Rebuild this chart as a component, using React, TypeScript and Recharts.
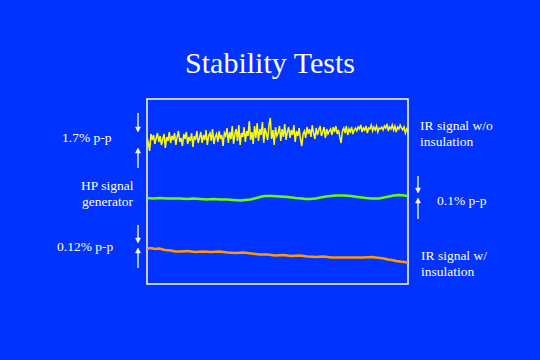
import React from "react";
import { LineChart, Line, XAxis, YAxis, ReferenceArea } from "recharts";

// Signal traces (arbitrary units, height above plot floor), time axis 0..130
const yellowValues = [
  147, 141, 133, 150, 144, 149, 140, 146, 151, 142, 148, 139, 145, 150, 136, 147, 143, 152, 141, 148,
  144, 151, 139, 147, 153, 142, 146, 138, 150, 145, 152, 140, 147, 143, 151, 137, 148, 144, 153, 141,
  146, 152, 141, 149, 144, 154, 139, 148, 151, 143, 155, 140, 147, 150, 142, 153, 145, 149, 138, 151,
  148, 156, 141, 152, 145, 158, 140, 150, 155, 143, 159, 139, 151, 147, 157, 142, 153, 148, 163, 144,
  152, 140, 158, 146, 161, 143, 155, 149, 162, 141, 156, 150, 144, 159, 166, 145, 154, 139, 157, 148,
  151, 158, 143, 155, 147, 160, 144, 152, 157, 146, 154, 149, 159, 142, 153, 148, 156, 145, 138, 150,
  153, 146, 157, 150, 155, 147, 159, 151, 145, 156, 149, 154, 158, 148, 152, 157, 146, 155, 150, 153,
  155, 149, 157, 152, 158, 150, 154, 147, 141, 153, 156, 151, 158, 149, 155, 152, 157, 150, 154, 156,
  153, 157, 155, 159, 152, 156, 154, 158, 151, 156, 155, 159, 153, 157, 154, 158, 152, 156, 155, 157,
  154, 158, 156, 160, 153, 157, 155, 159, 154, 158, 152, 157, 155, 159, 156, 154, 157, 151, 155, 152,
];

const greenX = [0, 3, 6.5, 10, 13, 16.5, 20, 23, 26.5, 30, 33, 36.5, 40, 43, 46.5, 49, 51.5, 53.5, 55.5, 57, 59, 62, 66.5, 70, 74, 77, 79, 81, 84, 86.5, 89, 91.5, 94, 98, 101.5, 105, 109, 112, 115.5, 118, 120.5, 123, 125.5, 128, 130];
const greenValues = [86, 85.5, 86, 85.5, 85.5, 85.5, 85, 85.5, 85, 84.5, 85, 84.5, 84.5, 84, 83.5, 84, 84.5, 85.5, 86.5, 87.5, 88, 88, 87.5, 87, 86, 85.5, 85, 85, 85.5, 86.5, 87.5, 88, 88.5, 88.5, 88, 87, 86, 85.5, 85.5, 86.5, 87.5, 88.5, 89, 88.5, 88];

const orangeX = [0, 2, 4, 6, 9, 12, 14, 17, 20, 24, 28, 32, 36, 40, 44, 48, 52, 56, 60, 64, 68, 72, 76, 80, 84, 88, 92, 96, 100, 104, 108, 112, 116, 118, 120, 122, 124, 126, 128, 130];
const orangeValues = [35.5, 36, 35, 35.5, 34, 33.5, 32.5, 32.5, 33, 32, 32.5, 32, 32.5, 31.5, 31, 31.5, 30.5, 29.5, 29.5, 28.5, 29, 28, 28.5, 27.5, 27, 27.5, 26.5, 26.5, 26.5, 26.5, 26.5, 27, 26, 25.5, 24.5, 24, 23, 22.5, 22, 21.5];

const titleText = "Stability Tests";
const leftLabels = ["1.7% p-p", "HP signal", "generator", "0.12% p-p"];
const rightLabels = ["IR signal w/o", "insulation", "0.1% p-p", "IR signal w/", "insulation"];

const yellowData = yellowValues.map((y, i) => ({ x: (i * 130) / (yellowValues.length - 1), y }));
const greenData = greenX.map((x, i) => ({ x, y: greenValues[i] }));
const orangeData = orangeX.map((x, i) => ({ x, y: orangeValues[i] }));

const BG = "#0033ff";
const FONT = "'Liberation Serif', 'Times New Roman', serif";

function Arrow({ x, y1, y2 }: { x: number; y1: number; y2: number }) {
  const dir = y2 > y1 ? 1 : -1;
  return (
    <g stroke="#fff" strokeWidth={1.3} fill="#fff">
      <line x1={x} y1={y1} x2={x} y2={y2 - dir * 3} />
      <polygon points={`${x - 2.5},${y2 - dir * 5} ${x + 2.5},${y2 - dir * 5} ${x},${y2}`} strokeWidth={0.5} />
    </g>
  );
}

export default function App() {
  return (
    <div style={{ position: "absolute", left: 0, top: 0, width: 540, height: 360, background: BG, overflow: "hidden" }}>
      <div style={{ position: "absolute", left: 0, top: 0 }}>
        <LineChart width={540} height={360} margin={{ top: 99, right: 132, bottom: 76, left: 147 }}>
          <XAxis type="number" dataKey="x" domain={[0, 130]} hide allowDataOverflow />
          <YAxis type="number" dataKey="y" domain={[0, 185]} hide allowDataOverflow />
          <ReferenceArea x1={0} x2={130} y1={0} y2={185} fill="none" stroke="#ffffff" strokeWidth={1.5} ifOverflow="extendDomain" />
          <Line data={orangeData} dataKey="y" type="linear" stroke="#ff9900" strokeWidth={2.5} dot={false} isAnimationActive={false} />
          <Line data={greenData} dataKey="y" type="linear" stroke="#66ff00" strokeWidth={2.5} dot={false} isAnimationActive={false} />
          <Line data={yellowData} dataKey="y" type="linear" stroke="#ffff00" strokeWidth={1.5} dot={false} isAnimationActive={false} />
        </LineChart>
      </div>
      <svg width={540} height={360} style={{ position: "absolute", left: 0, top: 0, pointerEvents: "none" }}>
        <text x={270} y={73} textAnchor="middle" fill="#fff" fontFamily={FONT} fontSize={30}>{titleText}</text>
        <g fill="#fff" fontFamily={FONT} fontSize={13.5}>
          <text x={62} y={142}>{leftLabels[0]}</text>
          <text x={81} y={190}>{leftLabels[1]}</text>
          <text x={82} y={206}>{leftLabels[2]}</text>
          <text x={57} y={251}>{leftLabels[3]}</text>
          <text x={420} y={130}>{rightLabels[0]}</text>
          <text x={420} y={146}>{rightLabels[1]}</text>
          <text x={437} y={205}>{rightLabels[2]}</text>
          <text x={421} y={260}>{rightLabels[3]}</text>
          <text x={421} y={276}>{rightLabels[4]}</text>
        </g>
        <Arrow x={138} y1={113} y2={132} />
        <Arrow x={138} y1={168} y2={148} />
        <Arrow x={138} y1={225} y2={243} />
        <Arrow x={138} y1={268} y2={248} />
        <Arrow x={418} y1={176} y2={193} />
        <Arrow x={418} y1={219} y2={198} />
      </svg>
    </div>
  );
}
